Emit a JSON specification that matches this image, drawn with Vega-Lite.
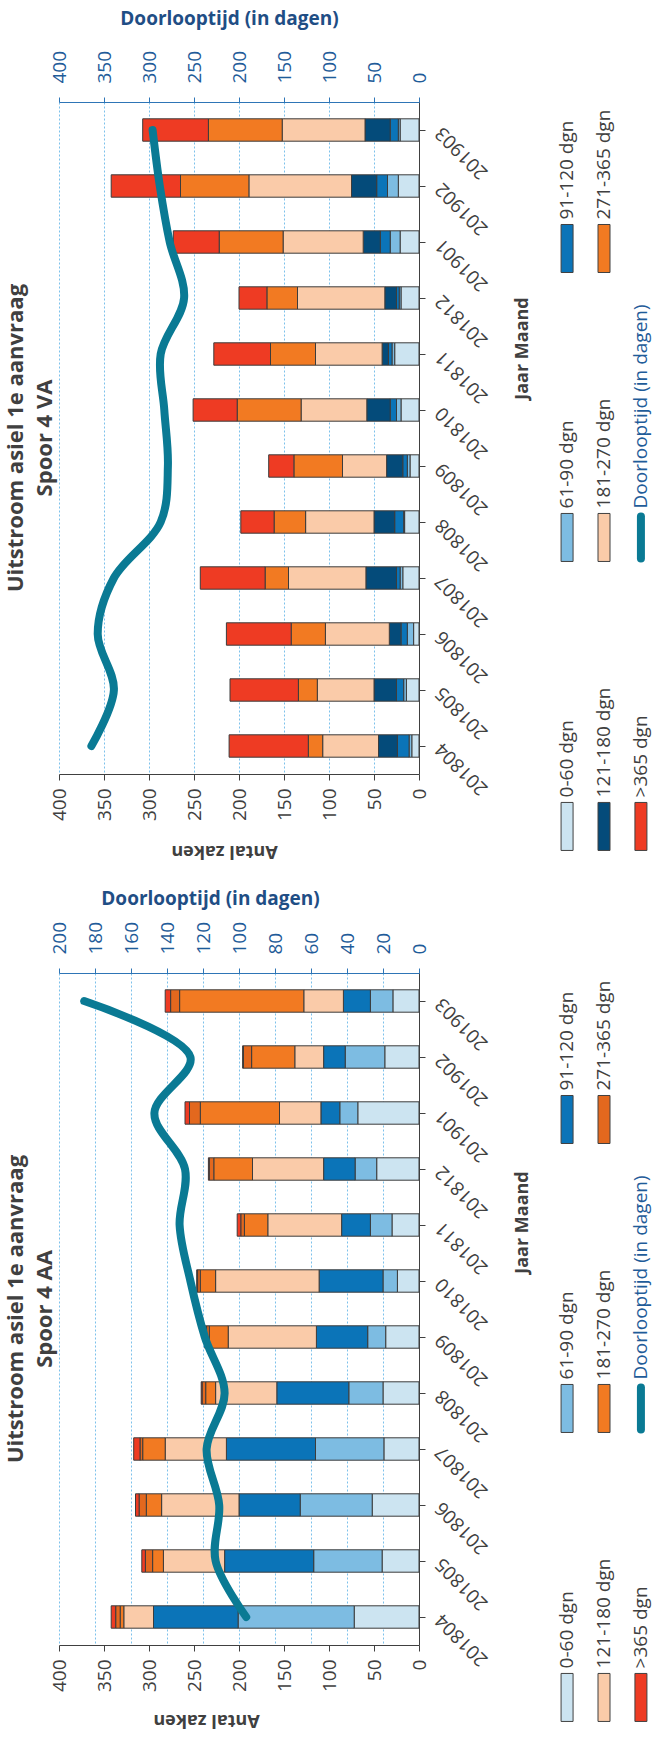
{
  "$schema": "https://vega.github.io/schema/vega-lite/v6.json",
  "background": "white",
  "padding": {"left": 4, "top": 9, "right": 0, "bottom": 0},
  "config": {
    "font": "Open Sans",
    "view": {"stroke": null},
    "axis": {"labelFont": "Open Sans", "titleFont": "Open Sans"},
    "title": {"font": "Open Sans"}
  },
  "datasets": {
    "va": [
      {"m": "201804", "a1": 8, "a2": 3, "a3": 13, "a4": 21, "a5": 62, "a6": 16, "a7": 88, "d": 364},
      {"m": "201805", "a1": 14, "a2": 3, "a3": 8, "a4": 25, "a5": 63, "a6": 21, "a7": 76, "d": 339},
      {"m": "201806", "a1": 6, "a2": 7, "a3": 7, "a4": 13, "a5": 71, "a6": 38, "a7": 72, "d": 357},
      {"m": "201807", "a1": 18, "a2": 3, "a3": 4, "a4": 34, "a5": 86, "a6": 26, "a7": 72, "d": 339},
      {"m": "201808", "a1": 16, "a2": 1, "a3": 10, "a4": 23, "a5": 76, "a6": 35, "a7": 37, "d": 287},
      {"m": "201809", "a1": 10, "a2": 3, "a3": 5, "a4": 18, "a5": 49, "a6": 54, "a7": 28, "d": 279},
      {"m": "201810", "a1": 20, "a2": 5, "a3": 7, "a4": 26, "a5": 73, "a6": 71, "a7": 49, "d": 283},
      {"m": "201811", "a1": 27, "a2": 3, "a3": 4, "a4": 7, "a5": 74, "a6": 50, "a7": 63, "d": 287},
      {"m": "201812", "a1": 20, "a2": 2, "a3": 3, "a4": 13, "a5": 97, "a6": 34, "a7": 31, "d": 261},
      {"m": "201901", "a1": 21, "a2": 11, "a3": 11, "a4": 19, "a5": 89, "a6": 71, "a7": 51, "d": 277},
      {"m": "201902", "a1": 23, "a2": 12, "a3": 12, "a4": 28, "a5": 114, "a6": 76, "a7": 77, "d": 288},
      {"m": "201903", "a1": 21, "a2": 2, "a3": 9, "a4": 28, "a5": 92, "a6": 82, "a7": 73, "d": 296}
    ],
    "aa": [
      {"m": "201804", "a1": 72, "a2": 129, "a3": 94, "a4": 33, "a5": 4, "a6": 5, "a7": 5, "d": 96},
      {"m": "201805", "a1": 41, "a2": 76, "a3": 99, "a4": 68, "a5": 12, "a6": 8, "a7": 4, "d": 113},
      {"m": "201806", "a1": 52, "a2": 80, "a3": 68, "a4": 86, "a5": 17, "a6": 8, "a7": 4, "d": 111},
      {"m": "201807", "a1": 39, "a2": 76, "a3": 99, "a4": 68, "a5": 25, "a6": 3, "a7": 7, "d": 118},
      {"m": "201808", "a1": 40, "a2": 38, "a3": 80, "a4": 68, "a5": 11, "a6": 4, "a7": 1, "d": 108},
      {"m": "201809", "a1": 37, "a2": 20, "a3": 57, "a4": 98, "a5": 21, "a6": 3, "a7": 2, "d": 119},
      {"m": "201810", "a1": 24, "a2": 16, "a3": 71, "a4": 115, "a5": 17, "a6": 3, "a7": 1, "d": 127},
      {"m": "201811", "a1": 30, "a2": 24, "a3": 32, "a4": 82, "a5": 26, "a6": 4, "a7": 4, "d": 133},
      {"m": "201812", "a1": 47, "a2": 24, "a3": 35, "a4": 79, "a5": 43, "a6": 5, "a7": 1, "d": 130},
      {"m": "201901", "a1": 68, "a2": 20, "a3": 21, "a4": 46, "a5": 88, "a6": 12, "a7": 5, "d": 147},
      {"m": "201902", "a1": 38, "a2": 44, "a3": 24, "a4": 32, "a5": 48, "a6": 9, "a7": 1, "d": 127},
      {"m": "201903", "a1": 29, "a2": 25, "a3": 30, "a4": 44, "a5": 138, "a6": 10, "a7": 6, "d": 186}
    ],
    "leg": [
      {"col": 1, "row": 0, "t": "0-60 dgn", "k": "a1"},
      {"col": 1, "row": 1, "t": "61-90 dgn", "k": "a2"},
      {"col": 1, "row": 2, "t": "91-120 dgn", "k": "a3"},
      {"col": 2, "row": 0, "t": "121-180 dgn", "k": "a4"},
      {"col": 2, "row": 1, "t": "181-270 dgn", "k": "a5"},
      {"col": 2, "row": 2, "t": "271-365 dgn", "k": "a6"},
      {"col": 3, "row": 0, "t": ">365 dgn", "k": "a7"},
      {"col": 3, "row": 1, "t": "Doorlooptijd (in dagen)", "k": "line"}
    ]
  },
  "resolve": {"scale": {"color": "independent", "fill": "independent"}},
  "spacing": 27,
  "vconcat": [
    {
      "spacing": 25,
      "resolve": {"scale": {"color": "independent", "fill": "independent"}},
      "hconcat": [
        {
          "width": 360,
          "height": 672,
          "title": {"text": ["Uitstroom asiel 1e aanvraag", "Spoor 4 VA"], "orient": "left", "anchor": "middle", "angle": 270, "fontSize": 22, "fontWeight": "bold", "color": "#404040", "lineHeight": 29, "offset": -7},
          "data": {"name": "va"},
          "resolve": {"scale": {"x": "independent"}, "axis": {"x": "independent"}},
          "layer": [
            {
              "transform": [{"fold": ["a1", "a2", "a3", "a4", "a5", "a6", "a7"], "as": ["k", "v"]}],
              "mark": {"type": "bar", "stroke": "#3c3c3c", "strokeWidth": 1},
              "encoding": {
                "y": {"field": "m", "type": "ordinal", "sort": "descending", "scale": {"paddingInner": 0.6, "paddingOuter": 0.3},
                  "axis": {"orient": "right", "labelAngle": 225, "labelAlign": "right", "labelBaseline": "middle", "labelFontSize": 19, "labelColor": "#404040", "labelPadding": 13, "tickSize": 6, "tickColor": "#404040", "domainColor": "#404040", "title": "Jaar Maand", "titleAngle": 270, "titleFontSize": 18, "titleFontWeight": "bold", "titleColor": "#404040", "titleX": 103, "titleY": 246, "titleBaseline": "middle", "titleAlign": "center"}},
                "x": {"field": "v", "type": "quantitative", "stack": "zero", "scale": {"domain": [0, 400], "reverse": true, "nice": false},
                  "axis": {"orient": "bottom", "values": [0, 50, 100, 150, 200, 250, 300, 350, 400], "grid": false, "domainColor": "#404040", "tickColor": "#404040", "tickSize": 6, "labelAngle": 270, "labelFontSize": 19, "labelColor": "#404040", "labelPadding": 8, "title": "Antal zaken", "titleAngle": 180, "titleFontSize": 18, "titleFontWeight": "bold", "titleColor": "#404040", "titleX": 165, "titleY": 76, "titleBaseline": "middle", "titleAlign": "center"}},
                "color": {"field": "k", "type": "nominal", "scale": {"domain": ["a1", "a2", "a3", "a4", "a5", "a6", "a7"], "range": ["#CCE4F1", "#7DBCE2", "#0B74B8", "#044B7A", "#FACBA9", "#F27A22", "#EE3B23"]}, "legend": null},
                "order": {"field": "k"}
              }
            },
            {
              "mark": {"type": "line", "color": "#0A7A94", "strokeWidth": 8, "strokeCap": "round", "interpolate": "catmull-rom"},
              "encoding": {
                "y": {"field": "m", "type": "ordinal", "sort": "descending"},
                "x": {"field": "d", "type": "quantitative", "scale": {"domain": [0, 400], "reverse": true, "nice": false},
                  "axis": {"orient": "top", "values": [0, 50, 100, 150, 200, 250, 300, 350, 400], "grid": true, "gridColor": "#7CC1EB", "gridDash": [2, 2], "gridWidth": 1, "domainColor": "#2E75B6", "tickColor": "#2E75B6", "tickSize": 5, "labelAngle": 270, "labelFontSize": 19, "labelColor": "#1F5C99", "labelPadding": 14, "title": "Doorlooptijd (in dagen)", "titleColor": "#1F4E85", "titleFontSize": 19, "titleFontWeight": "bold", "titleX": 170, "titleY": -84, "titleBaseline": "middle", "titleAlign": "center", "titleAngle": 0}},
                "order": {"field": "m"}
              }
            }
          ]
        },
        {
          "width": 96,
          "height": 760,
          "data": {"name": "leg"},
          "layer": [
            {
              "transform": [{"filter": "datum.k !== 'line'"}],
              "mark": {"type": "point", "shape": "M-0.25,-1H0.25V1H-0.25Z", "size": 2304, "filled": true, "opacity": 1, "stroke": "#404040", "strokeWidth": 1, "yOffset": -24},
              "encoding": {
                "x": {"field": "col", "type": "quantitative", "scale": {"domain": [0.7, 3.3], "nice": false, "zero": false}, "axis": null},
                "y": {"field": "row", "type": "quantitative", "scale": {"domain": [-0.04, 2.59], "nice": false, "zero": false}, "axis": null},
                "fill": {"field": "k", "type": "nominal", "scale": {"domain": ["a1", "a2", "a3", "a4", "a5", "a6", "a7"], "range": ["#CCE4F1", "#7DBCE2", "#0B74B8", "#044B7A", "#FACBA9", "#F27A22", "#EE3B23"]}, "legend": null}
              }
            },
            {
              "transform": [{"filter": "datum.k === 'line'"}],
              "mark": {"type": "point", "shape": "M0,-1V1", "size": 1764, "filled": false, "opacity": 1, "color": "#0A7A94", "strokeWidth": 8, "strokeCap": "round", "yOffset": -24},
              "encoding": {
                "x": {"field": "col", "type": "quantitative"},
                "y": {"field": "row", "type": "quantitative"}
              }
            },
            {
              "mark": {"type": "text", "angle": 270, "align": "left", "baseline": "middle", "fontSize": 19, "yOffset": -53},
              "encoding": {
                "x": {"field": "col", "type": "quantitative"},
                "y": {"field": "row", "type": "quantitative"},
                "text": {"field": "t"},
                "color": {"condition": {"test": "datum.k === 'line'", "value": "#1F5C99"}, "value": "#404040"}
              }
            }
          ]
        }
      ]
    },
    {
      "spacing": 25,
      "resolve": {"scale": {"color": "independent", "fill": "independent"}},
      "hconcat": [
        {
          "width": 360,
          "height": 672,
          "title": {"text": ["Uitstroom asiel 1e aanvraag", "Spoor 4 AA"], "orient": "left", "anchor": "middle", "angle": 270, "fontSize": 22, "fontWeight": "bold", "color": "#404040", "lineHeight": 29, "offset": -7},
          "data": {"name": "aa"},
          "resolve": {"scale": {"x": "independent"}, "axis": {"x": "independent"}},
          "layer": [
            {
              "transform": [{"fold": ["a1", "a2", "a3", "a4", "a5", "a6", "a7"], "as": ["k", "v"]}],
              "mark": {"type": "bar", "stroke": "#3c3c3c", "strokeWidth": 1},
              "encoding": {
                "y": {"field": "m", "type": "ordinal", "sort": "descending", "scale": {"paddingInner": 0.6, "paddingOuter": 0.3},
                  "axis": {"orient": "right", "labelAngle": 225, "labelAlign": "right", "labelBaseline": "middle", "labelFontSize": 19, "labelColor": "#404040", "labelPadding": 13, "tickSize": 6, "tickColor": "#404040", "domainColor": "#404040", "title": "Jaar Maand", "titleAngle": 270, "titleFontSize": 18, "titleFontWeight": "bold", "titleColor": "#404040", "titleX": 103, "titleY": 249, "titleBaseline": "middle", "titleAlign": "center"}},
                "x": {"field": "v", "type": "quantitative", "stack": "zero", "scale": {"domain": [0, 400], "reverse": true, "nice": false},
                  "axis": {"orient": "bottom", "values": [0, 50, 100, 150, 200, 250, 300, 350, 400], "grid": false, "domainColor": "#404040", "tickColor": "#404040", "tickSize": 6, "labelAngle": 270, "labelFontSize": 19, "labelColor": "#404040", "labelPadding": 8, "title": "Antal zaken", "titleAngle": 180, "titleFontSize": 18, "titleFontWeight": "bold", "titleColor": "#404040", "titleX": 147, "titleY": 74, "titleBaseline": "middle", "titleAlign": "center"}},
                "color": {"field": "k", "type": "nominal", "scale": {"domain": ["a1", "a2", "a3", "a4", "a5", "a6", "a7"], "range": ["#CCE4F1", "#7DBCE2", "#0B74B8", "#FACBA9", "#F27A22", "#E3681E", "#EE3B23"]}, "legend": null},
                "order": {"field": "k"}
              }
            },
            {
              "mark": {"type": "line", "color": "#0A7A94", "strokeWidth": 8, "strokeCap": "round", "interpolate": "catmull-rom"},
              "encoding": {
                "y": {"field": "m", "type": "ordinal", "sort": "descending"},
                "x": {"field": "d", "type": "quantitative", "scale": {"domain": [0, 200], "reverse": true, "nice": false},
                  "axis": {"orient": "top", "values": [0, 20, 40, 60, 80, 100, 120, 140, 160, 180, 200], "grid": true, "gridColor": "#7CC1EB", "gridDash": [2, 2], "gridWidth": 1, "domainColor": "#2E75B6", "tickColor": "#2E75B6", "tickSize": 5, "labelAngle": 270, "labelFontSize": 19, "labelColor": "#1F5C99", "labelPadding": 14, "title": "Doorlooptijd (in dagen)", "titleColor": "#1F4E85", "titleFontSize": 19, "titleFontWeight": "bold", "titleX": 151, "titleY": -75, "titleBaseline": "middle", "titleAlign": "center", "titleAngle": 0}},
                "order": {"field": "m"}
              }
            }
          ]
        },
        {
          "width": 96,
          "height": 760,
          "data": {"name": "leg"},
          "layer": [
            {
              "transform": [{"filter": "datum.k !== 'line'"}],
              "mark": {"type": "point", "shape": "M-0.25,-1H0.25V1H-0.25Z", "size": 2304, "filled": true, "opacity": 1, "stroke": "#404040", "strokeWidth": 1, "yOffset": -24},
              "encoding": {
                "x": {"field": "col", "type": "quantitative", "scale": {"domain": [0.7, 3.3], "nice": false, "zero": false}, "axis": null},
                "y": {"field": "row", "type": "quantitative", "scale": {"domain": [-0.04, 2.59], "nice": false, "zero": false}, "axis": null},
                "fill": {"field": "k", "type": "nominal", "scale": {"domain": ["a1", "a2", "a3", "a4", "a5", "a6", "a7"], "range": ["#CCE4F1", "#7DBCE2", "#0B74B8", "#FACBA9", "#F27A22", "#E3681E", "#EE3B23"]}, "legend": null}
              }
            },
            {
              "transform": [{"filter": "datum.k === 'line'"}],
              "mark": {"type": "point", "shape": "M0,-1V1", "size": 1764, "filled": false, "opacity": 1, "color": "#0A7A94", "strokeWidth": 8, "strokeCap": "round", "yOffset": -24},
              "encoding": {
                "x": {"field": "col", "type": "quantitative"},
                "y": {"field": "row", "type": "quantitative"}
              }
            },
            {
              "mark": {"type": "text", "angle": 270, "align": "left", "baseline": "middle", "fontSize": 19, "yOffset": -53},
              "encoding": {
                "x": {"field": "col", "type": "quantitative"},
                "y": {"field": "row", "type": "quantitative"},
                "text": {"field": "t"},
                "color": {"condition": {"test": "datum.k === 'line'", "value": "#1F5C99"}, "value": "#404040"}
              }
            }
          ]
        }
      ]
    }
  ]
}
